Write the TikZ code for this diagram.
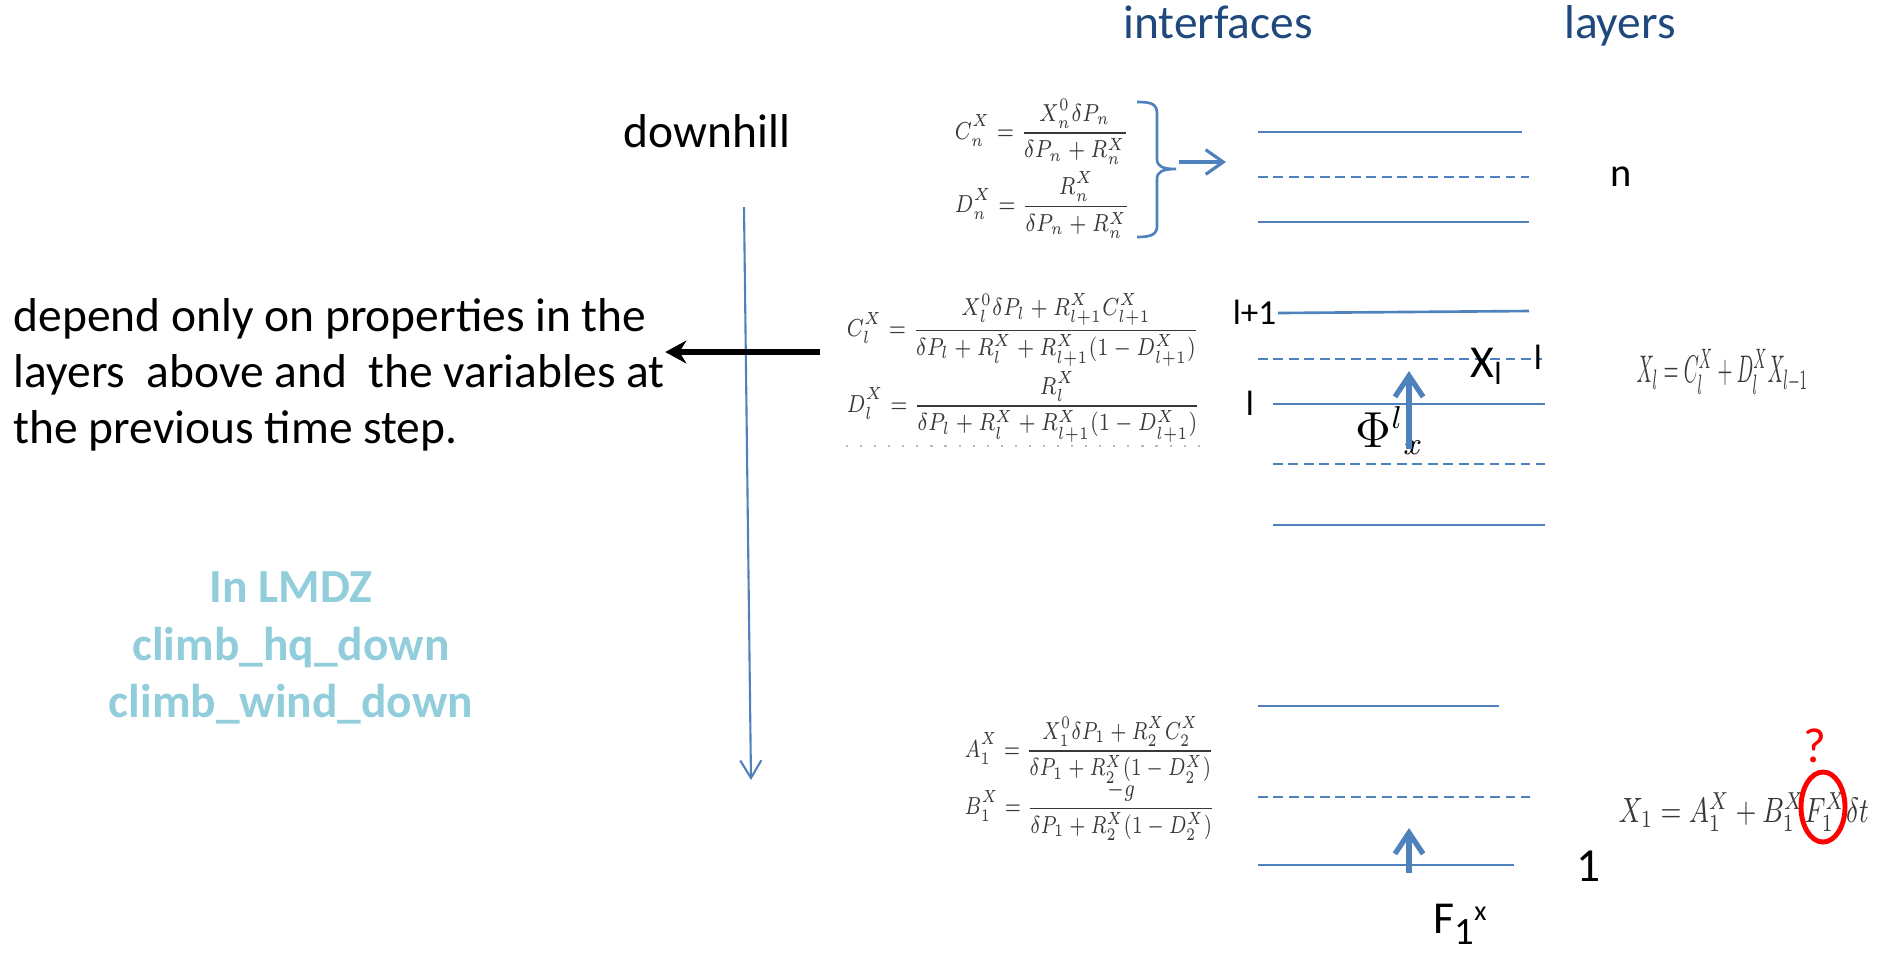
\documentclass[tikz,border=0pt]{standalone}
\usepackage[no-math]{fontspec}
\setmainfont{Carlito}
\usepackage{amsmath}
\usepackage{graphicx}
\usetikzlibrary{arrows.meta}
\definecolor{lineblue}{RGB}{79,129,189}
\definecolor{titleblue}{RGB}{31,73,125}
\definecolor{lmdzblue}{RGB}{146,205,220}
\definecolor{eqgray}{RGB}{56,56,56}
\newcommand{\eqsize}{\fontsize{7.3}{9}\selectfont}
\newcommand{\bigtext}{\fontsize{13.5}{15.9}\selectfont}
\newcommand{\eqbox}[2][0.8]{\scalebox{#1}[1]{$\displaystyle #2$}}

\begin{document}
\begin{tikzpicture}[x=0.01cm,y=-0.01cm,
  level/.style={lineblue,line width=0.75pt},
  halflevel/.style={lineblue,line width=0.75pt,dash pattern=on 2.8pt off 1.6pt},
  eq/.style={anchor=west,inner sep=0pt,text=eqgray,font=\eqsize},
  lab/.style={inner sep=0pt,font=\fontsize{10}{12}\selectfont},
  flux/.style={lineblue,line width=1.5pt,-{Straight Barb[length=6pt,width=8pt]}}]
\useasboundingbox (0,0) rectangle (1885,953);

% titles and left texts
\node[anchor=base,text=titleblue,font=\bigtext] (interfaces) at (1218,38) {interfaces};
\node[anchor=base,text=titleblue,font=\bigtext] (layers) at (1620,38) {layers};
\node[anchor=base,font=\bigtext] (downhill) at (707,147) {downhill};
\node[anchor=west,align=left,inner sep=0pt,font=\bigtext] (depend) at (13,375)
  {depend only on properties in the\\layers\ \ above and\ \ the variables at\\the previous time step.};
\node[align=center,inner sep=0pt,text=lmdzblue,font=\bfseries\fontsize{13.5}{16.4}\selectfont] (lmdz) at (291,648)
  {In LMDZ\\climb\_hq\_down\\climb\_wind\_down};

% downhill arrow
\coordinate (dtop) at (744,207);
\coordinate (dbot) at (751,780);
\draw[lineblue,line width=0.6pt,-{Straight Barb[length=5pt,width=6pt]}] (dtop) -- (dbot);
\coordinate (bstart) at (820,352);
\draw[line width=1.5pt,-{Stealth[length=6pt,width=6.5pt]}] (bstart) -- (depend.east |- bstart);

% equations
\node[eq] (eqCn) at (954,132) {\eqbox{C_n^X=\frac{X_n^0\delta P_n}{\delta P_n+R_n^X}}};
\node[eq] (eqDn) at (954,205) {\eqbox{D_n^X=\frac{R_n^X}{\delta P_n+R_n^X}}};
\node[eq] (eqCl) at (846,330) {\eqbox{C_l^X=\frac{X_l^0\delta P_l+R_{l+1}^X C_{l+1}^X}{\delta P_l+R_l^X+R_{l+1}^X(1-D_{l+1}^X)}}};
\node[eq] (eqDl) at (846,407) {\eqbox{D_l^X=\frac{R_l^X}{\delta P_l+R_l^X+R_{l+1}^X(1-D_{l+1}^X)}}};
\draw[gray!55,line width=0.4pt,dash pattern=on 0.6pt off 3.4pt] (846,446) -- (1207,446);
\node[eq] (eqA1) at (964,750) {\eqbox[0.755]{A_1^X=\frac{X_1^0\delta P_1+R_2^X C_2^X}{\delta P_1+R_2^X(1-D_2^X)}}};
\node[eq] (eqB1) at (964,811) {\eqbox[0.755]{B_1^X=\frac{-g}{\delta P_1+R_2^X(1-D_2^X)}}};
\node[eq,font=\fontsize{11}{13}\selectfont] (eqXl) at (1636,372) {\scalebox{0.5}[1]{$X_l=C_l^X+D_l^X X_{l-1}$}};
\node[eq,font=\fontsize{9.8}{12}\selectfont] (eqX1) at (1618,812) {\scalebox{0.765}[1]{$X_1=A_1^X+B_1^X F_1^X\delta t$}};
\draw[red,line width=1.4pt] (1823,807) ellipse [x radius=0.22cm,y radius=0.35cm];
\node[inner sep=0pt,text=red,font=\fontsize{14}{16}\selectfont] (qmark) at (1815,746) {?};

% brace to the top layer
\draw[lineblue,line width=0.75pt] (1137,102) .. controls (1152,102) and (1157,104) .. (1157,114)
  -- (1157,159) .. controls (1157,166) and (1162,169) .. (1176,169)
  .. controls (1162,169) and (1157,172) .. (1157,179)
  -- (1157,226) .. controls (1157,234) and (1152,237) .. (1137,237);
\coordinate (bracetip) at (1179,162);
\coordinate (toplayer) at (1226,162);
\draw[lineblue,line width=0.9pt,-{Straight Barb[length=5pt,width=7pt]}] (bracetip) -- (toplayer);

% levels
\draw[level] (1258,132) -- (1522,132);
\draw[halflevel] (1258,177) -- (1529,177);
\draw[level] (1258,222) -- (1529,222);
\draw[level] (1278,313) -- (1529,311);
\draw[halflevel] (1258,359) -- (1542,359);
\draw[level] (1273,404) -- (1545,404);
\draw[halflevel] (1273,464) -- (1545,464);
\draw[level] (1273,525) -- (1545,525);
\draw[level] (1258,706) -- (1499,706);
\draw[halflevel] (1258,797) -- (1530,797);
\draw[level] (1258,865) -- (1514,865);

% level labels
\node[lab,font=\fontsize{11.5}{14}\selectfont] (labn) at (1621,177) {n};
\node[lab,anchor=east] (lablplus) at (1277,312) {l+1};
\node[lab,anchor=base west,font=\fontsize{13}{15}\selectfont] (labXl) at (1470,377) {X\textsubscript{l}};
\node[lab] (labright) at (1538,357) {l};
\node[lab] (lableft) at (1250,403) {l};
\node[anchor=base west,inner sep=0pt,font=\fontsize{13.5}{16}\selectfont] (labPhi) at (1355,447) {$\Phi^{l}{}_{x}$};
\node[lab,font=\fontsize{13.5}{16}\selectfont] (labone) at (1589,866) {1};
\node[anchor=base west,inner sep=0pt,font=\fontsize{13}{15}\selectfont] (labF) at (1433,933)
  {F\raisebox{-3.2pt}{\fontsize{11}{11}\selectfont 1}\raisebox{3.7pt}{\fontsize{8}{8}\selectfont x}};

% fluxes
\coordinate (phibot) at (1409,449);
\coordinate (phitop) at (1409,371);
\draw[flux] (phibot) -- (phitop);
\coordinate (fbot) at (1409,873);
\coordinate (ftop) at (1409,828);
\draw[flux] (fbot) -- (ftop);
\end{tikzpicture}
\end{document}
